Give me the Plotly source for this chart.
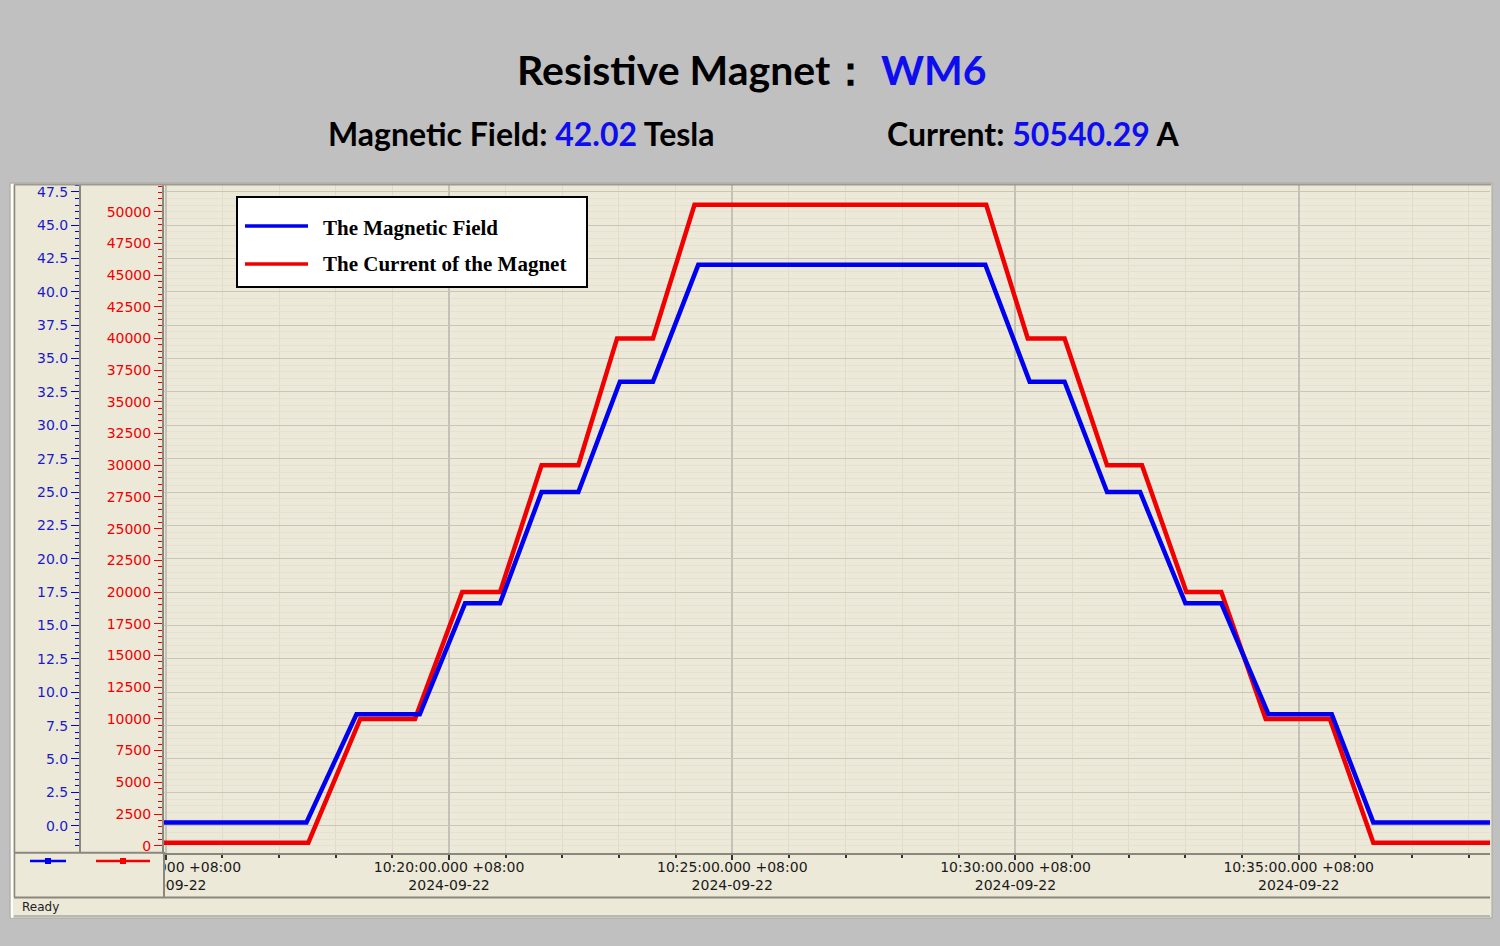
import plotly.graph_objects as go

# ---------------- data ----------------
DAY = "2024-09-22 "
field_time = ["10:14:50", "10:17:29", "10:18:22", "10:19:29", "10:20:17", "10:20:54",
              "10:21:38", "10:22:17", "10:23:01", "10:23:36", "10:24:24", "10:29:28",
              "10:30:15", "10:30:52", "10:31:37", "10:32:12", "10:33:00", "10:33:38",
              "10:34:28", "10:35:35", "10:36:19", "10:38:30"]
field_tesla = [0.25, 0.25, 8.35, 8.35, 16.66, 16.66, 25.0, 25.0, 33.27, 33.27, 42.02, 42.02,
               33.27, 33.27, 25.0, 25.0, 16.66, 16.66, 8.35, 8.35, 0.25, 0.25]

current_time = ["10:14:50", "10:17:31", "10:18:26", "10:19:24", "10:20:14", "10:20:54",
                "10:21:38", "10:22:17", "10:22:58", "10:23:36", "10:24:20", "10:29:29",
                "10:30:13", "10:30:52", "10:31:37", "10:32:14", "10:33:01", "10:33:38",
                "10:34:25", "10:35:33", "10:36:19", "10:38:30"]
current_amp = [240, 240, 10000, 10000, 20000, 20000, 30000, 30000, 40000, 40000, 50540, 50540,
               40000, 40000, 30000, 30000, 20000, 20000, 10000, 10000, 240, 240]

magnet_name = "WM6"
field_now = "42.02"
current_now = "50540.29"
series_names = ["The Magnetic Field", "The Current of the Magnet"]

x_range = [DAY + "10:14:58.1", DAY + "10:38:22.6"]
field_range = [-2.02, 48.0]
current_range = [-552, 52102]

# ---------------- helpers ----------------
W, H = 1500, 946
def fx(px):
    return px / W
def fy(py):
    return 1 - py / H

BLUE = "#0000f0"
RED = "#f00000"
PANEL = "#ece9d8"
PLOTBG = "#f1ede2"
AXFONT = "DejaVu Sans"

fig = go.Figure()
fig.add_trace(go.Scatter(
    x=[DAY + t for t in current_time], y=current_amp, yaxis="y",
    mode="lines", line=dict(color=RED, width=4.5), name=series_names[1],
    showlegend=False, hoverinfo="skip"))
fig.add_trace(go.Scatter(
    x=[DAY + t for t in field_time], y=field_tesla, yaxis="y2",
    mode="lines", line=dict(color=BLUE, width=4.5), name=series_names[0],
    showlegend=False, hoverinfo="skip"))

fig.update_layout(
    width=W, height=H,
    margin=dict(l=0, r=0, t=0, b=0, pad=0, autoexpand=False),
    paper_bgcolor="#c0c0c0",
    plot_bgcolor=PLOTBG,
    xaxis=dict(
        type="date", domain=[fx(164), fx(1490)], range=x_range, automargin=False,
        tick0=DAY + "10:00:00", dtick=300000,
        tickformat="%H:%M:%S.%L +08:00<br>%Y-%m-%d",
        ticks="outside", ticklen=5, tickwidth=1.5, tickcolor="#333333",
        ticklabelstandoff=-5,
        tickfont=dict(family=AXFONT, size=14, color="#1a1a1a", lineposition="none"),
        showline=True, linecolor="#8a877c", linewidth=2,
        showgrid=True, gridcolor="#c4c1b7", gridwidth=1.5,
        minor=dict(dtick=60000, tick0=DAY + "10:00:00", ticks="outside", ticklen=3,
                   tickcolor="#333333", showgrid=True, gridcolor="#e3dac7", gridwidth=1.2),
        zeroline=False, fixedrange=True,
    ),
    yaxis=dict(
        domain=[fy(852.7), fy(185)], range=current_range, anchor="x", side="left",
        automargin=False,
        tick0=0, dtick=2500, tickformat="d",
        ticks="outside", ticklen=8, tickcolor=RED, tickwidth=1,
        tickfont=dict(family=AXFONT, size=14, color=RED),
        showline=True, linecolor="#8a877c", linewidth=2,
        showgrid=False, zeroline=False, fixedrange=True,
        minor=dict(dtick=500, tick0=0, ticks="outside", ticklen=4, tickcolor=RED, showgrid=False),
    ),
    yaxis2=dict(
        overlaying="y", range=field_range, anchor="free", position=fx(80), side="left",
        automargin=False,
        tick0=0, dtick=2.5, tickformat=".1f",
        ticks="outside", ticklen=8, tickcolor=BLUE, tickwidth=1,
        tickfont=dict(family=AXFONT, size=14, color="#1a1acc"),
        showline=True, linecolor="#8a877c", linewidth=2,
        showgrid=True, gridcolor="#c8c5bb", gridwidth=1.2,
        minor=dict(dtick=0.5, tick0=0, ticks="outside", ticklen=4, tickcolor=BLUE,
                   showgrid=True, gridcolor="#e4e0d4", gridwidth=1),
        zeroline=False, fixedrange=True,
    ),
    showlegend=False,
)

shapes = []
# panel background (below everything)
shapes.append(dict(type="rect", xref="paper", yref="paper", layer="below",
                   x0=fx(10), x1=fx(1492), y0=fy(918), y1=fy(183),
                   fillcolor=PANEL, line=dict(color="#a9a79f", width=1)))
shapes.append(dict(type="line", xref="paper", yref="paper", layer="below",
                   x0=fx(12), x1=fx(12), y0=fy(918), y1=fy(184),
                   line=dict(color="#ffffff", width=2)))
# cover for the clipped first x label (left of the divider)
shapes.append(dict(type="rect", xref="paper", yref="paper", layer="above",
                   x0=fx(14), x1=fx(163), y0=fy(896), y1=fy(854),
                   fillcolor=PANEL, line=dict(width=0)))
# bottom line of axis region left part
shapes.append(dict(type="line", xref="paper", yref="paper", layer="above",
                   x0=fx(14), x1=fx(164), y0=fy(852.7), y1=fy(852.7),
                   line=dict(color="#8a877c", width=2)))
# divider continuation
shapes.append(dict(type="line", xref="paper", yref="paper", layer="above",
                   x0=fx(164), x1=fx(164), y0=fy(897), y1=fy(852),
                   line=dict(color="#8a877c", width=2)))
# inner left border
shapes.append(dict(type="line", xref="paper", yref="paper", layer="above",
                   x0=fx(14.5), x1=fx(14.5), y0=fy(897), y1=fy(185),
                   line=dict(color="#8a877c", width=1.5)))
# status bar background and lines
shapes.append(dict(type="rect", xref="paper", yref="paper", layer="above",
                   x0=fx(14), x1=fx(1490), y0=fy(916), y1=fy(898),
                   fillcolor=PANEL, line=dict(width=0)))
shapes.append(dict(type="line", xref="paper", yref="paper", layer="above",
                   x0=fx(14), x1=fx(1490), y0=fy(897.5), y1=fy(897.5),
                   line=dict(color="#8a877c", width=2)))
shapes.append(dict(type="line", xref="paper", yref="paper", layer="above",
                   x0=fx(14), x1=fx(1490), y0=fy(916), y1=fy(916),
                   line=dict(color="#a9a79f", width=1.5)))
# top border of plot
shapes.append(dict(type="line", xref="paper", yref="paper", layer="above",
                   x0=fx(14), x1=fx(1491), y0=fy(184.5), y1=fy(184.5),
                   line=dict(color="#9c9a92", width=2)))
# bottom-left swatches
shapes.append(dict(type="line", xref="paper", yref="paper", layer="above",
                   x0=fx(30), x1=fx(66), y0=fy(861), y1=fy(861),
                   line=dict(color=BLUE, width=2.5)))
shapes.append(dict(type="rect", xref="paper", yref="paper", layer="above",
                   x0=fx(45), x1=fx(51), y0=fy(864), y1=fy(858),
                   fillcolor=BLUE, line=dict(width=0)))
shapes.append(dict(type="line", xref="paper", yref="paper", layer="above",
                   x0=fx(96), x1=fx(150), y0=fy(861), y1=fy(861),
                   line=dict(color=RED, width=2.5)))
shapes.append(dict(type="rect", xref="paper", yref="paper", layer="above",
                   x0=fx(120), x1=fx(126), y0=fy(864), y1=fy(858),
                   fillcolor=RED, line=dict(width=0)))
# legend box
shapes.append(dict(type="rect", xref="paper", yref="paper", layer="above",
                   x0=fx(237), x1=fx(587), y0=fy(287), y1=fy(197),
                   fillcolor="#ffffff", line=dict(color="#000000", width=2)))
shapes.append(dict(type="line", xref="paper", yref="paper", layer="above",
                   x0=fx(245), x1=fx(308), y0=fy(226), y1=fy(226),
                   line=dict(color=BLUE, width=3.5)))
shapes.append(dict(type="line", xref="paper", yref="paper", layer="above",
                   x0=fx(245), x1=fx(308), y0=fy(264), y1=fy(264),
                   line=dict(color=RED, width=3.5)))
fig.update_layout(shapes=shapes)

TFONT = "Lato"
ann = []
ann.append(dict(xref="paper", yref="paper", x=fx(752), y=fy(70), xanchor="center", yanchor="middle",
                showarrow=False,
                text="Resistive Magnet：<span style='color:#0d0df0'> %s</span>" % magnet_name,
                font=dict(family=TFONT, size=41, color="#000000", weight="bold")))
ann.append(dict(xref="paper", yref="paper", x=fx(326), y=fy(133), xanchor="left", yanchor="middle",
                showarrow=False,
                text="Magnetic Field: <span style='color:#0d0df0'>%s</span> Tesla" % field_now,
                font=dict(family=TFONT, size=32, color="#000000", weight="bold")))
ann.append(dict(xref="paper", yref="paper", x=fx(885), y=fy(133), xanchor="left", yanchor="middle",
                showarrow=False,
                text="Current: <span style='color:#0d0df0'>%s</span> A" % current_now,
                font=dict(family=TFONT, size=32, color="#000000", weight="bold")))
ann.append(dict(xref="paper", yref="paper", x=fx(321), y=fy(228), xanchor="left", yanchor="middle",
                showarrow=False, text=series_names[0],
                font=dict(family="Liberation Serif", size=21, color="#000000", weight="bold")))
ann.append(dict(xref="paper", yref="paper", x=fx(321), y=fy(264), xanchor="left", yanchor="middle",
                showarrow=False, text=series_names[1],
                font=dict(family="Liberation Serif", size=21, color="#000000", weight="bold")))
ann.append(dict(xref="paper", yref="paper", x=fx(20), y=fy(907), xanchor="left", yanchor="middle",
                showarrow=False, text="Ready",
                font=dict(family=AXFONT, size=12, color="#222222")))
fig.update_layout(annotations=ann)

fig.write_html("out.html", config={"displayModeBar": False},
               post_script="document.body.style.margin='0';document.body.style.overflow='hidden';")
